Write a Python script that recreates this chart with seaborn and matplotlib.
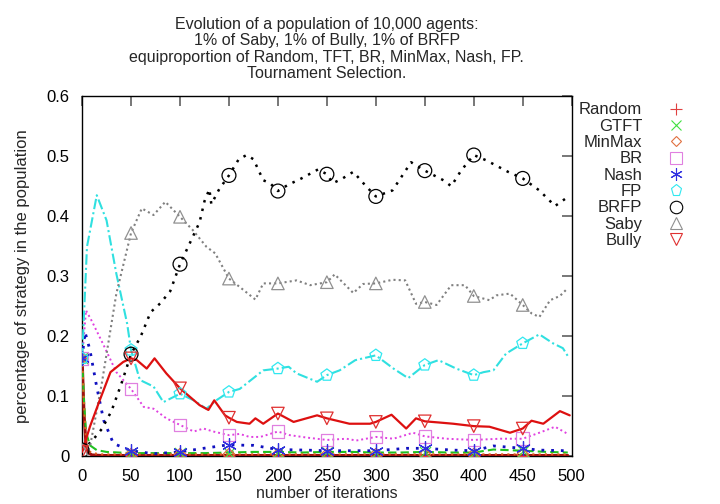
import matplotlib
matplotlib.use("Agg")
import matplotlib.pyplot as plt
import seaborn as sns
import numpy as np
from matplotlib.lines import Line2D

sns.set_theme(style="white")
plt.rcParams['font.family'] = ['Liberation Sans', 'DejaVu Sans']

title = ("Evolution of a population of 10,000 agents:\n"
         "1% of Saby, 1% of Bully, 1% of BRFP\n"
         "equiproportion of Random, TFT, BR, MinMax, Nash, FP.\n"
         "Tournament Selection.")

marker_iters = [0, 50, 100, 150, 200, 250, 300, 350, 400, 450]

# ---- data ----
x_random = [0, 2, 4, 6, 10, 20, 50, 100, 150, 200, 250, 300, 350, 400, 450, 496]
y_random = [0.163, 0.07, 0.02, 0.006, 0.002, 0.001, 0.001, 0.001, 0.001, 0.001, 0.001, 0.001, 0.001, 0.001, 0.001, 0.001]

x_gtft = [0, 2, 4, 8, 15, 25, 50, 75, 100, 125, 150, 175, 200, 225, 250, 275, 300, 325, 350, 375, 400, 420, 435, 450, 475, 496]
y_gtft = [0.163, 0.09, 0.04, 0.018, 0.01, 0.007, 0.005, 0.005, 0.005, 0.005, 0.006, 0.007, 0.007, 0.006, 0.007, 0.007, 0.006, 0.006, 0.007, 0.006, 0.006, 0.011, 0.01, 0.009, 0.007, 0.006]

x_minmax = [0, 2, 4, 6, 10, 20, 50, 100, 150, 200, 250, 300, 350, 400, 450, 496]
y_minmax = [0.163, 0.08, 0.03, 0.01, 0.005, 0.003, 0.003, 0.003, 0.003, 0.003, 0.003, 0.003, 0.003, 0.003, 0.003, 0.003]

x_br = [0, 4, 10, 22, 35, 50, 63, 73, 86, 100, 114, 124, 134, 150, 161, 171, 182, 200, 212, 229, 250, 270, 280, 300, 318, 338, 350, 372, 400, 427, 450, 467, 483, 496]
y_br = [0.163, 0.243, 0.225, 0.185, 0.14, 0.112, 0.082, 0.079, 0.063, 0.052, 0.041, 0.046, 0.041, 0.035, 0.037, 0.032, 0.032, 0.041, 0.035, 0.031, 0.027, 0.029, 0.026, 0.032, 0.029, 0.039, 0.033, 0.029, 0.027, 0.029, 0.029, 0.039, 0.049, 0.037]

x_nash = [0, 3, 8, 15, 22, 32, 50, 73, 100, 124, 150, 168, 175, 200, 229, 250, 280, 300, 331, 350, 379, 400, 420, 450, 467, 496]
y_nash = [0.163, 0.207, 0.177, 0.115, 0.06, 0.021, 0.009, 0.004, 0.007, 0.013, 0.019, 0.018, 0.018, 0.011, 0.01, 0.009, 0.009, 0.009, 0.013, 0.013, 0.01, 0.009, 0.017, 0.013, 0.01, 0.009]

x_fp = [0, 5, 15, 25, 35, 46, 50, 59, 73, 83, 100, 114, 127, 137, 150, 161, 185, 200, 211, 219, 240, 250, 263, 279, 300, 318, 333, 350, 364, 382, 400, 410, 420, 433, 450, 467, 481, 491, 496]
y_fp = [0.163, 0.349, 0.435, 0.393, 0.304, 0.221, 0.177, 0.127, 0.116, 0.09, 0.104, 0.093, 0.079, 0.093, 0.107, 0.112, 0.143, 0.146, 0.149, 0.138, 0.124, 0.135, 0.143, 0.16, 0.168, 0.146, 0.13, 0.152, 0.16, 0.146, 0.135, 0.14, 0.143, 0.171, 0.188, 0.203, 0.188, 0.18, 0.167]

x_brfp = [0, 10, 20, 30, 40, 50, 60, 70, 80, 90, 100, 110, 120, 125, 130, 132, 140, 150, 160, 168, 175, 185, 192, 200, 210, 224, 241, 250, 256, 265, 277, 290, 300, 317, 336, 350, 369, 377, 387, 400, 413, 435, 450, 467, 483, 496]
y_brfp = [0.01, 0.025, 0.045, 0.075, 0.12, 0.17, 0.2, 0.24, 0.255, 0.275, 0.32, 0.355, 0.39, 0.425, 0.445, 0.42, 0.445, 0.468, 0.495, 0.502, 0.495, 0.46, 0.455, 0.442, 0.452, 0.463, 0.478, 0.47, 0.455, 0.462, 0.474, 0.45, 0.433, 0.443, 0.49, 0.476, 0.46, 0.45, 0.476, 0.502, 0.493, 0.474, 0.463, 0.443, 0.417, 0.432]

x_saby = [0, 8, 20, 35, 50, 61, 73, 85, 100, 113, 127, 136, 150, 161, 177, 185, 200, 219, 233, 250, 258, 277, 287, 300, 317, 330, 341, 350, 362, 377, 391, 400, 416, 423, 437, 450, 459, 467, 478, 488, 496]
y_saby = [0.01, 0.015, 0.12, 0.271, 0.372, 0.413, 0.402, 0.424, 0.399, 0.377, 0.349, 0.338, 0.296, 0.282, 0.261, 0.288, 0.288, 0.293, 0.285, 0.29, 0.303, 0.272, 0.287, 0.288, 0.294, 0.293, 0.254, 0.257, 0.252, 0.285, 0.285, 0.267, 0.26, 0.268, 0.271, 0.252, 0.238, 0.232, 0.26, 0.267, 0.28]

x_bully = [0, 8, 18, 29, 42, 50, 56, 66, 74, 86, 100, 120, 129, 135, 146, 150, 158, 171, 177, 185, 200, 216, 240, 250, 273, 294, 300, 316, 331, 341, 350, 365, 379, 400, 416, 437, 450, 459, 471, 488, 498]
y_bully = [0.007, 0.049, 0.093, 0.14, 0.157, 0.163, 0.16, 0.146, 0.163, 0.138, 0.113, 0.085, 0.077, 0.093, 0.068, 0.064, 0.057, 0.054, 0.063, 0.054, 0.071, 0.057, 0.068, 0.063, 0.054, 0.054, 0.057, 0.069, 0.046, 0.063, 0.058, 0.056, 0.054, 0.05, 0.049, 0.039, 0.046, 0.059, 0.054, 0.075, 0.068]

series = [
    # name, x, y, line color, linestyle, lw, marker, marker color, marker size
    ("Random", x_random, y_random, "#a01010", "-", 2.2, "+", "#e04040", 9),
    ("GTFT", x_gtft, y_gtft, "#20c020", (0, (4, 2)), 1.5, "x", "#40e040", 8),
    ("MinMax", x_minmax, y_minmax, "#e06020", (0, (1, 2)), 1.5, "D", "#e07040", 6),
    ("BR", x_br, y_br, "#e040e0", (0, (1, 1.5)), 1.4, "s", "#e080e0", 9),
    ("Nash", x_nash, y_nash, "#1010c0", (0, (1, 2.5)), 2.0, (6, 2, 0), "#3030e0", 10),
    ("FP", x_fp, y_fp, "#30e0e0", (0, (5, 1.5, 1, 1.5)), 1.5, "p", "#30e8f0", 9),
    ("BRFP", x_brfp, y_brfp, "#000000", (0, (1, 2.5)), 1.8, "o", "#000000", 10),
    ("Saby", x_saby, y_saby, "#808080", (0, (1, 1.5)), 1.5, "^", "#909090", 9),
    ("Bully", x_bully, y_bully, "#dd1010", "-", 1.6, "v", "#e03030", 9),
]

fig = plt.figure(figsize=(7.2, 5.04), dpi=100)
ax = fig.add_axes([0.114, 0.095, 0.680, 0.714])

handles = []
for name, xs, ys, lc, ls, lw, mk, mc, ms in series:
    sns.lineplot(x=xs, y=ys, ax=ax, color=lc, linestyle=ls, linewidth=lw,
                 estimator=None, sort=False, zorder=3)
    xs_a = np.asarray(xs)
    ys_a = np.asarray(ys)
    sel = np.isin(xs_a, marker_iters)
    filled = mk in ("+", "x") or isinstance(mk, tuple)
    sns.scatterplot(x=xs_a[sel], y=ys_a[sel], ax=ax, marker=mk, s=ms ** 2,
                    facecolor="none" if not filled else mc,
                    edgecolor=mc, color=mc, linewidth=0.9, zorder=4, legend=False)
    handles.append(Line2D([], [], linestyle="none", marker=mk, markersize=ms * 0.9,
                          markerfacecolor="none" if not filled else mc,
                          markeredgecolor=mc, markeredgewidth=0.8, label=name))

ax.set_xlim(0, 500)
ax.set_ylim(0, 0.6)
ax.set_xticks(range(0, 501, 50))
ax.set_yticks([0, 0.1, 0.2, 0.3, 0.4, 0.5, 0.6])
ax.set_yticklabels(["0", "0.1", "0.2", "0.3", "0.4", "0.5", "0.6"])
ax.tick_params(axis="both", direction="in", length=7, width=1.2, color="#606060",
               top=True, right=True, labelsize=12, labelcolor="black")
ax.tick_params(axis="x", pad=9)
ax.tick_params(axis="y", pad=9)
for sp in ax.spines.values():
    sp.set_color("black")
    sp.set_linewidth(1.0)

ax.set_title(title, fontsize=11.5, pad=13, linespacing=1.12)
ax.set_xlabel("number of iterations", fontsize=11.5, labelpad=2)
ax.set_ylabel("percentage of strategy in the population", fontsize=12, labelpad=12)

leg = ax.legend(handles=handles, loc="upper left", bbox_to_anchor=(0.795, 0.81),
                bbox_transform=fig.transFigure, markerfirst=False, frameon=False,
                fontsize=12, handlelength=1.2, handletextpad=1.45, labelspacing=0.08,
                borderaxespad=0)

fig.savefig("out.png", dpi=100)
